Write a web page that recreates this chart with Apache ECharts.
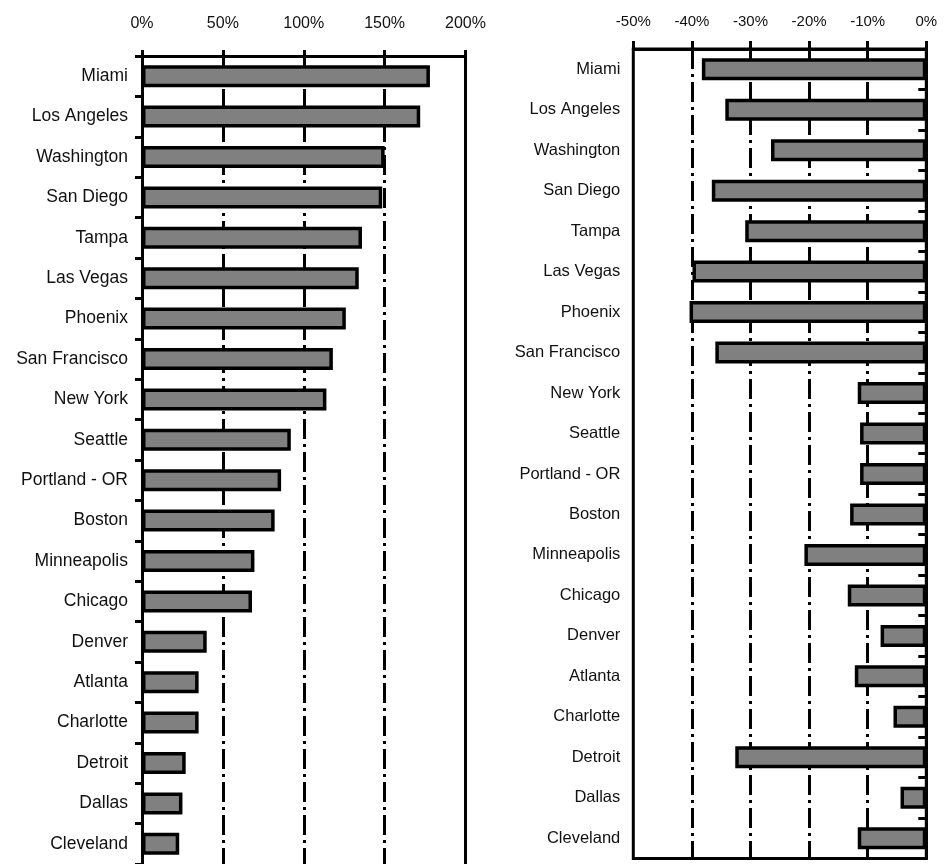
<!DOCTYPE html>
<html>
<head>
<meta charset="utf-8">
<script src="https://cdn.jsdelivr.net/npm/echarts@6/dist/echarts.min.js"></script>
<style>
html,body{margin:0;padding:0;background:#fff;}
#chart{width:944px;height:864px;}
</style>
</head>
<body>
<div id="chart"></div>
<script>
const cities = ['Miami','Los Angeles','Washington','San Diego','Tampa','Las Vegas','Phoenix','San Francisco','New York','Seattle','Portland - OR','Boston','Minneapolis','Chicago','Denver','Atlanta','Charlotte','Detroit','Dallas','Cleveland'];
const leftValues = [178, 172, 150, 148.5, 136, 134, 126, 118, 114, 92, 86, 82, 69.5, 68, 40, 35, 35, 27, 25, 23];
const rightValues = [-38.3, -34.3, -26.5, -36.6, -30.9, -39.9, -40.4, -36, -11.7, -11.3, -11.3, -13, -20.8, -13.4, -7.8, -12.2, -5.6, -32.6, -4.4, -11.7];
const leftTicks = {min: 0, max: 200, interval: 50};
const rightTicks = {min: -50, max: 0, interval: 10};

const FONT = 'Liberation Sans, Arial, sans-serif';
const TXT = '#111';
const dashPattern = [20, 5, 3, 5];

const chart = echarts.init(document.getElementById('chart'), null, {renderer: 'canvas'});

const option = {
  animation: false,
  backgroundColor: '#ffffff',
  grid: [
    {left: 142, right: 478.5, top: 56, height: 812, show: false},
    {left: 633.3, right: 17.7, top: 49, height: 809.5, show: true, borderColor: '#000', borderWidth: 3, backgroundColor: 'transparent'}
  ],
  xAxis: [
    {
      gridIndex: 0, type: 'value', position: 'top',
      min: leftTicks.min, max: leftTicks.max, interval: leftTicks.interval,
      axisLine: {show: true, lineStyle: {color: '#000', width: 3}},
      axisTick: {show: true, length: 6, lineStyle: {color: '#000', width: 3}},
      axisLabel: {formatter: '{value}%', fontFamily: FONT, fontSize: 16, color: TXT, margin: 24},
      splitLine: {show: true, showMinLine: false, showMaxLine: false, lineStyle: {color: '#000', width: 3, type: dashPattern}}
    },
    {
      gridIndex: 1, type: 'value', position: 'top',
      min: rightTicks.min, max: rightTicks.max, interval: rightTicks.interval,
      axisLine: {show: true, lineStyle: {color: '#000', width: 3}},
      axisTick: {show: true, length: 8, lineStyle: {color: '#000', width: 3}},
      axisLabel: {formatter: '{value}%', fontFamily: FONT, fontSize: 15, color: TXT, margin: 20},
      splitLine: {show: true, showMinLine: false, showMaxLine: false, lineStyle: {color: '#000', width: 3, type: dashPattern}}
    }
  ],
  yAxis: [
    {
      gridIndex: 0, type: 'category', inverse: true, data: cities,
      axisLine: {show: true, lineStyle: {color: '#000', width: 3}},
      axisTick: {show: true, length: 7, lineStyle: {color: '#000', width: 3}},
      axisLabel: {fontFamily: FONT, fontSize: 17.5, color: TXT, margin: 14},
      splitLine: {show: false}
    },
    {
      gridIndex: 0, type: 'category', inverse: true, data: cities, position: 'right',
      axisLine: {show: true, lineStyle: {color: '#000', width: 3}},
      axisTick: {show: false},
      axisLabel: {show: false},
      splitLine: {show: false}
    },
    {
      gridIndex: 1, type: 'category', inverse: true, data: cities, position: 'left',
      axisLine: {show: true, lineStyle: {color: '#000', width: 3}},
      axisTick: {show: false},
      axisLabel: {fontFamily: FONT, fontSize: 16.5, color: TXT, margin: 13},
      splitLine: {show: false}
    },
    {
      gridIndex: 1, type: 'category', inverse: true, data: cities, position: 'right',
      axisLine: {show: true, lineStyle: {color: '#000', width: 3}},
      axisTick: {show: true, inside: true, length: 8, lineStyle: {color: '#000', width: 3}},
      axisLabel: {show: false},
      splitLine: {show: false}
    }
  ],
  series: [
    {
      type: 'bar', xAxisIndex: 0, yAxisIndex: 0, data: leftValues,
      barWidth: 22,
      itemStyle: {color: '#808080', borderColor: '#000', borderWidth: 3.5}
    },
    {
      type: 'bar', xAxisIndex: 1, yAxisIndex: 2, data: rightValues,
      barWidth: 22,
      itemStyle: {color: '#808080', borderColor: '#000', borderWidth: 3.5}
    }
  ]
};
chart.setOption(option);
</script>
</body>
</html>
